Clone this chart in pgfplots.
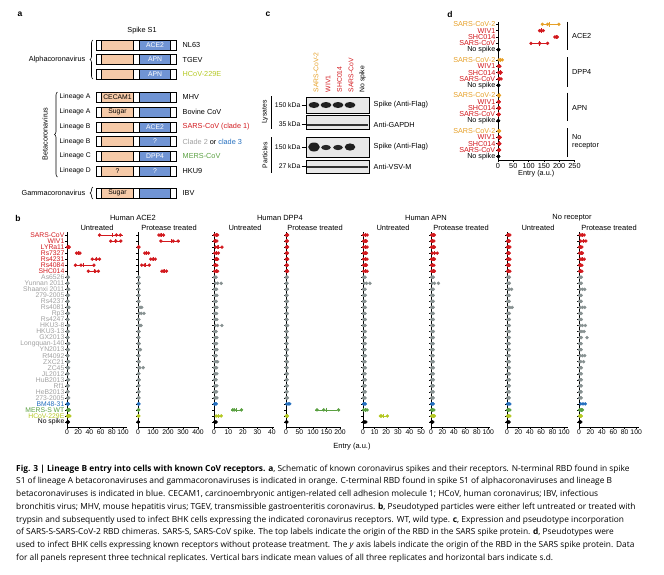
\documentclass[border=0pt]{standalone}
\usepackage{pgfplots}
\pgfplotsset{compat=1.18}
\usepackage{pgfplotstable}
\usepackage{fontspec}
\setmainfont{Liberation Sans}
\newfontfamily\capfont{Open Sans}
\usetikzlibrary{decorations.pathreplacing}

\definecolor{cred}{RGB}{210,25,30}
\definecolor{cgrayl}{RGB}{160,160,160}
\definecolor{cgraym}{RGB}{135,145,145}
\definecolor{cblue}{RGB}{35,110,190}
\definecolor{cmers}{RGB}{90,160,65}
\definecolor{chcov}{RGB}{180,200,35}
\definecolor{corg}{RGB}{230,160,40}
\definecolor{sorange}{RGB}{246,202,168}
\definecolor{sblue}{RGB}{112,148,212}

\newcommand{\fa}{\fontsize{7.3}{8}\selectfont}
\newcommand{\fb}{\fontsize{6.8}{7.5}\selectfont}

% panel b data: y = row position (31 = top row), a b c = replicates, m = mean, s = s.d.
\pgfplotstableread{
y a b c m s k
31 58 88 95 80 20 R
30 78 87 96 87 9 R
29 1 2.5 4 2.5 1.5 R
28 17 20 23 20 3 R
27 45 52 58 52 6.5 R
26 15 25 48 29 17 R
25 38 50 56 48 9 R
24 0.5 1.5 2.5 1.5 1 G
23 0.5 1 2 1.2 0.8 G
22 1 2 3 2 1 G
21 0.5 1.5 2.5 1.5 1 G
20 0.5 1 2 1.2 0.8 G
19 1 2 3.5 2.2 1.2 G
18 0.5 1.5 2.5 1.5 1 G
17 0.5 1 2 1.2 0.8 G
16 1 2 3 2 1 G
15 0.5 1.5 2.5 1.5 1 G
14 0.5 1 2 1.2 0.8 G
13 1 2 3 2 1 G
12 0.5 1.5 2.5 1.5 1 G
11 0.5 1 2 1.2 0.8 G
10 1 2 3 2 1 G
9 0.5 1.5 3 1.7 1.2 G
8 0.5 1 2 1.2 0.8 G
7 1 2 3 2 1 G
6 0.5 1.5 2.5 1.5 1 G
5 0.5 1 2 1.2 0.8 G
4 1 2 3 2 1 G
3 0.5 1.5 2.5 1.5 1 B
2 1 2.5 4 2.5 1.5 M
1 1 3 5 3 2 H
0 0.5 1.5 2.5 1.5 1 K
}\tUa
\pgfplotstableread{
y a b c m s k
31 140 153 170 154 15 R
30 153 235 268 219 59 R
29 2 4 6 4 2 R
28 45 55 70 57 12 R
27 85 100 115 100 15 R
26 25 45 75 48 25 R
25 160 172 190 174 15 R
24 2 4 6 4 2 G
23 2 5 8 5 3 G
22 2 4 6 4 2 G
21 2 4 7 4.3 2.5 G
20 2 4 6 4 2 G
19 5 15 25 15 10 G
18 8 22 40 23 16 G
17 2 4 6 4 2 G
16 5 12 20 12 7.5 G
15 2 4 7 4.3 2.5 G
14 2 4 6 4 2 G
13 2 5 8 5 3 G
12 4 10 16 10 6 G
11 2 4 6 4 2 G
10 2 5 8 5 3 G
9 5 12 35 17 16 G
8 2 4 6 4 2 G
7 2 5 8 5 3 G
6 2 4 6 4 2 G
5 2 4 7 4.3 2.5 G
4 2 4 6 4 2 G
3 2 4 6 4 2 B
2 2 3 5 3.3 1.5 M
1 2 3 5 3.3 1.5 H
0 1 2 3 2 1 K
}\tPa
\pgfplotstableread{
y a b c m s k
31 0.5 1.5 2.5 1.5 1 R
30 0.5 1 2 1.2 0.8 R
29 1 2.5 5.5 3 2.3 R
28 0.5 1.5 3 1.7 1.2 R
27 1 2 2.5 1.8 0.8 R
26 0.5 1 2 1.2 0.8 R
25 0.5 1.5 2.5 1.5 1 R
24 0.3 0.8 1.5 0.9 0.6 G
23 1 2.5 5 2.8 2 G
22 0.3 1 1.8 1 0.7 G
21 0.5 1 2 1.2 0.8 G
20 0.3 0.8 1.5 0.9 0.6 G
19 0.5 1.2 2 1.2 0.8 G
18 0.3 1 1.8 1 0.7 G
17 0.5 1 2 1.2 0.8 G
16 1 2.5 5.5 3 2.3 G
15 0.3 0.8 1.5 0.9 0.6 G
14 0.5 1.2 2 1.2 0.8 G
13 0.3 1 1.8 1 0.7 G
12 0.5 1 2 1.2 0.8 G
11 0.3 0.8 1.5 0.9 0.6 G
10 0.5 1.5 2.5 1.5 1 G
9 0.3 1 1.8 1 0.7 G
8 0.5 1 2 1.2 0.8 G
7 0.3 0.8 1.5 0.9 0.6 G
6 0.5 1.2 2 1.2 0.8 G
5 0.3 1 1.8 1 0.7 G
4 0.5 1 2 1.2 0.8 G
3 0.3 0.8 1.5 0.9 0.6 B
2 13 14 19 15.3 3.2 M
1 1.5 3 5 3.2 1.8 H
0 0.5 1 1.5 1 0.5 K
}\tUb
\pgfplotstableread{
y a b c m s k
31 1 3 6 3.3 2.5 R
30 1 2.5 5 2.8 2 R
29 1 3 6 3.3 2.5 R
28 1 2.5 5 2.8 2 R
27 1 3 6 3.3 2.5 R
26 1 2.5 5 2.8 2 R
25 1 3 6 3.3 2.5 R
24 1 3 5 3 2 G
23 1 2 4 2.3 1.5 G
22 1 3 5 3 2 G
21 1 2 4 2.3 1.5 G
20 1 3 5 3 2 G
19 1 2 4 2.3 1.5 G
18 1 3 5 3 2 G
17 1 2 4 2.3 1.5 G
16 1 3 6 3.3 2.5 G
15 1 2 4 2.3 1.5 G
14 1 3 5 3 2 G
13 1 2 4 2.3 1.5 G
12 1 3 5 3 2 G
11 1 2 4 2.3 1.5 G
10 1 3 5 3 2 G
9 1 2 4 2.3 1.5 G
8 1 3 5 3 2 G
7 1 2 4 2.3 1.5 G
6 1 3 5 3 2 G
5 1 2 4 2.3 1.5 G
4 1 3 5 3 2 G
3 3 8 14 8.3 5.5 B
2 115 140 195 150 41 M
1 1 3 5 3 2 H
0 1 2 3 2 1 K
}\tPb
\pgfplotstableread{
y a b c m s k
31 0.5 2 3.5 2 1.5 R
30 0.5 1.5 3 1.7 1.2 R
29 0.5 2 3.5 2 1.5 R
28 0.5 1.5 3 1.7 1.2 R
27 0.5 2 3.5 2 1.5 R
26 0.5 1.5 3 1.7 1.2 R
25 0.5 2 3.5 2 1.5 R
24 0.3 1 1.8 1 0.7 G
23 1 3 6 3.3 2.5 G
22 0.3 1 1.8 1 0.7 G
21 0.5 1.2 2 1.2 0.8 G
20 0.3 1 1.8 1 0.7 G
19 0.5 1.2 2 1.2 0.8 G
18 0.3 1 1.8 1 0.7 G
17 0.5 1.2 2 1.2 0.8 G
16 0.3 1 1.8 1 0.7 G
15 0.5 1.2 2 1.2 0.8 G
14 0.3 1 1.8 1 0.7 G
13 0.5 1.2 2 1.2 0.8 G
12 0.3 1 1.8 1 0.7 G
11 0.5 1.2 2 1.2 0.8 G
10 0.3 1 1.8 1 0.7 G
9 0.5 1.2 2 1.2 0.8 G
8 0.3 1 1.8 1 0.7 G
7 0.5 1.2 2 1.2 0.8 G
6 0.3 1 1.8 1 0.7 G
5 0.5 1.2 2 1.2 0.8 G
4 0.3 1 1.8 1 0.7 G
3 0.5 1 2 1.2 0.8 B
2 0.5 2 3.5 2 1.5 M
1 15 16 21 17.3 3.2 H
0 0.5 1.5 2.5 1.5 1 K
}\tUc
\pgfplotstableread{
y a b c m s k
31 1 3 6 3.3 2.5 R
30 1 2.5 5 2.8 2 R
29 1 3 6 3.3 2.5 R
28 2 6 11 6.3 4.5 R
27 1 3 6 3.3 2.5 R
26 1 2.5 5 2.8 2 R
25 1 3 6 3.3 2.5 R
24 1 2.5 4 2.5 1.5 G
23 2 6 13 7 5.5 G
22 1 2.5 4 2.5 1.5 G
21 1 2 4 2.3 1.5 G
20 1 2.5 4 2.5 1.5 G
19 1 2 4 2.3 1.5 G
18 1 2.5 4 2.5 1.5 G
17 1 2 4 2.3 1.5 G
16 1 2.5 4 2.5 1.5 G
15 1 2 4 2.3 1.5 G
14 1 2.5 4 2.5 1.5 G
13 1 2 4 2.3 1.5 G
12 1 2.5 4 2.5 1.5 G
11 1 2 4 2.3 1.5 G
10 1 2.5 4 2.5 1.5 G
9 1 2 4 2.3 1.5 G
8 1 2.5 4 2.5 1.5 G
7 1 2 4 2.3 1.5 G
6 1 2.5 4 2.5 1.5 G
5 1 2 4 2.3 1.5 G
4 1 2.5 4 2.5 1.5 G
3 1 2.5 4 2.5 1.5 B
2 1 3 5 3 2 M
1 1 3 6 3.3 2.5 H
0 0.5 1.5 3 1.7 1.2 K
}\tPc
\pgfplotstableread{
y a b c m s k
31 1 3 5 3 2 R
30 1 2.5 4 2.5 1.5 R
29 1 3 5 3 2 R
28 1 2.5 4 2.5 1.5 R
27 1 3 5 3 2 R
26 1 2.5 4 2.5 1.5 R
25 1 3 5 3 2 R
24 1 2.5 4 2.5 1.5 G
23 1 2 4 2.3 1.5 G
22 2 4 8 4.7 3 G
21 1 2 4 2.3 1.5 G
20 1 2.5 4 2.5 1.5 G
19 2 5 9 5.3 3.5 G
18 1 2.5 4 2.5 1.5 G
17 1 2 4 2.3 1.5 G
16 1 2.5 4 2.5 1.5 G
15 1 2 4 2.3 1.5 G
14 1 2.5 4 2.5 1.5 G
13 1 2 4 2.3 1.5 G
12 1 2.5 4 2.5 1.5 G
11 1 2 4 2.3 1.5 G
10 1 2.5 4 2.5 1.5 G
9 1 2 4 2.3 1.5 G
8 1 2.5 4 2.5 1.5 G
7 1 2 4 2.3 1.5 G
6 1 2.5 4 2.5 1.5 G
5 1 2 4 2.3 1.5 G
4 1 2.5 4 2.5 1.5 G
3 1 3 5 3 2 B
2 1 3 5 3 2 M
1 1 3 5 3 2 H
0 0.5 2 3.5 2 1.5 K
}\tUd
\pgfplotstableread{
y a b c m s k
31 2 5 9 5.3 3.5 R
30 3 8 12 7.7 4.5 R
29 1 3 5 3 2 R
28 1 3 6 3.3 2.5 R
27 2 5 9 5.3 3.5 R
26 1 3 5 3 2 R
25 1 3 5 3 2 R
24 1 2.5 4 2.5 1.5 G
23 1 2 4 2.3 1.5 G
22 2 6 10 6 4 G
21 1 2 4 2.3 1.5 G
20 1 2.5 4 2.5 1.5 G
19 2 6 10 6 4 G
18 1 2.5 4 2.5 1.5 G
17 1 2 4 2.3 1.5 G
16 2 6 11 6.3 4.5 G
15 2 5 9 5.3 3.5 G
14 2 4 14 6.7 6.4 G
13 1 2 4 2.3 1.5 G
12 1 2.5 4 2.5 1.5 G
11 2 6 10 6 4 G
10 1 3 8 4 3.6 G
9 1 2.5 4 2.5 1.5 G
8 1 2 4 2.3 1.5 G
7 1 2.5 4 2.5 1.5 G
6 1 2 4 2.3 1.5 G
5 1 2.5 4 2.5 1.5 G
4 1 2 4 2.3 1.5 G
3 3 7 11 7 4 B
2 1 3 6 3.3 2.5 M
1 1 2 4 2.3 1.5 H
0 0.5 1.5 3 1.7 1.2 K
}\tPd

% panel d data: y = row position (20.8 = top row)
\pgfplotstableread{
y a b c m s
20.8 145 162 199 169 28
15.2 3 8 14 8.3 5.5
9.6 1 3 5 3 2
4 1 3 5 3 2
}\tdO
\pgfplotstableread{
y a b c m s
19.8 136 141 148 142 6
18.8 186 190 194 190 4
17.8 108 136 162 135 27
14.2 1 3 6 3.3 2.5
13.2 2 6 10 6 4
12.2 2 5 10 5.7 4
8.6 1 2.5 4 2.5 1.5
7.6 1 3 5 3 2
6.6 1 2 4 2.3 1.5
3 2 4 7 4.3 2.5
2 2 4 6 4 2
1 1 3 5 3 2
}\tdR
\pgfplotstableread{
y a b c m s
16.8 0.5 1.5 2.5 1.5 1
11.2 0.5 1.5 2.5 1.5 1
5.6 0.5 1 2 1.2 0.8
0 0.5 1.5 2.5 1.5 1
}\tdK

\pgfplotsset{
  bstyle/.style={scale only axis, height=195pt, xmin=0, ymin=-0.83, ymax=31.5,
    axis x line*=bottom, axis y line*=left,
    axis line style={line width=0.8pt, -},
    ytick={0,...,31}, yticklabels={}, tick align=outside, major tick length=2pt,
    tick style={black, line width=0.5pt},
    tick label style={font=\fontsize{6.8}{7}\selectfont, inner sep=1pt},
    /pgf/number format/assume math mode=true, clip=false},
  bdots/.style={only marks, scatter, point meta=explicit symbolic, mark size=1.5pt,
    scatter/classes={
      R={mark=*,draw=cred,fill=cred},
      G={mark=*,draw=cgraym,fill=cgraym},
      B={mark=*,draw=cblue,fill=cblue},
      M={mark=*,draw=cmers,fill=cmers},
      H={mark=*,draw=chcov,fill=chcov},
      K={mark=*,draw=black,fill=black}}},
  berr/.style={only marks, mark=|, mark size=2.2pt, color=#1, mark options={line width=0.6pt},
    error bars/.cd, x dir=both, x explicit, error mark=none,
    error bar style={line width=0.5pt, #1}, /pgfplots/.cd},
}

\newcommand{\bplot}[6]{%
\begin{axis}[bstyle, at={(#1)}, anchor=south west, width=#2pt, xmax=#3, xtick={#4}, #6]
\addplot[bdots] table[x=a,y=y,meta=k]{#5};
\addplot[bdots] table[x=b,y=y,meta=k]{#5};
\addplot[bdots] table[x=c,y=y,meta=k]{#5};
\addplot[restrict y to domain=24.5:31.5, berr=cred] table[x=m,y=y,x error=s]{#5};
\addplot[restrict y to domain=1.5:2.5, berr=cmers] table[x=m,y=y,x error=s]{#5};
\addplot[restrict y to domain=0.5:1.5, berr=chcov] table[x=m,y=y,x error=s]{#5};
\end{axis}}

\newcommand{\spike}[3]{%
  \fill[sorange] (101.7,#1-4.8) rectangle (133.3,#1+4.8);
  \fill[sblue] (139.3,#1-4.8) rectangle (170.7,#1+4.8);
  \draw[line width=0.55pt] (96,#1-4.8) rectangle (176.7,#1+4.8);
  \foreach \xx in {101.7,133.3,139.3,170.7}{\draw[line width=0.55pt] (\xx,#1-4.8)--(\xx,#1+4.8);}
  \node[font=\fb, inner sep=0pt] at (117.5,#1) {#2};
  \node[font=\fb, text=white, inner sep=0pt] at (155,#1) {#3};}

\begin{document}
\begin{tikzpicture}[x=1pt,y=-1pt]
\useasboundingbox (0,0) rectangle (664,574);

% ---------- panel a ----------
\node[font=\bfseries\fontsize{8.5}{9}\selectfont] at (20,14) {a};
\node[font=\fa] at (142,31) {Spike S1};
\spike{45}{}{ACE2}
\spike{59.5}{}{APN}
\spike{74}{}{APN}
\spike{97}{CECAM1}{}
\spike{112}{Sugar}{}
\spike{127}{}{ACE2}
\spike{141.5}{}{?}
\spike{156}{}{DPP4}
\spike{171}{?}{?}
\spike{193}{Sugar}{}
\begin{scope}[every node/.style={anchor=west, font=\fa, inner sep=0.5pt}]
\node at (182,45) {NL63};
\node at (182,59.5) {TGEV};
\node[text=chcov] at (182,74) {HCoV-229E};
\node at (182,97) {MHV};
\node at (182,112) {Bovine CoV};
\node[text=cred] at (182,127) {SARS-CoV (clade 1)};
\node at (182,141.5) {\textcolor{cgrayl}{Clade 2} or \textcolor{cblue}{clade 3}};
\node[text=cmers] at (182,156) {MERS-CoV};
\node at (182,171) {HKU9};
\node at (182,193) {IBV};
\end{scope}
\begin{scope}[every node/.style={anchor=west, font=\fb, inner sep=0.5pt}]
\node at (59,97) {Lineage A};
\node at (59,112) {Lineage A};
\node at (59,127) {Lineage B};
\node at (59,141.5) {Lineage B};
\node at (59,156) {Lineage C};
\node at (59,171) {Lineage D};
\end{scope}
\draw[decorate, decoration={brace, amplitude=3pt}, line width=0.6pt] (93,79) -- (93,40);
\draw[decorate, decoration={brace, amplitude=3pt}, line width=0.6pt] (57.5,177) -- (57.5,92);
\draw[decorate, decoration={brace, amplitude=3pt}, line width=0.6pt] (93,199) -- (93,187);
\node[anchor=east, font=\fa, inner sep=0.5pt] at (86,59.5) {Alphacoronavirus};
\node[anchor=east, font=\fa, inner sep=0.5pt] at (86,193) {Gammacoronavirus};
\node[rotate=90, font=\fa] at (45,134) {Betacoronavirus};

% ---------- panel c ----------
\node[font=\bfseries\fontsize{8.5}{9}\selectfont] at (268,14) {c};
\foreach \x/\t/\c in {316/SARS-CoV-2/corg, 328/WIV1/cred, 339.5/SHC014/cred, 351/SARS-CoV/cred, 362.5/No spike/black}
  \node[rotate=90, anchor=west, font=\fb, text=\c, inner sep=0.5pt] at (\x,93) {\t};
\fill[black!9] (306,97) rectangle (369,113);
\fill[black!9] (306,115) rectangle (369,129);
\fill[black!9] (306,137) rectangle (369,157);
\fill[black!9] (306,160) rectangle (369,173);
\foreach \x in {314,326,338,350} \fill[black!88] (\x,105) ellipse [x radius=5.4pt, y radius=3pt];
\fill[black!80] (307,123.5) rectangle (368,125.5);
\fill[black!88] (314,147) ellipse [x radius=5.8pt, y radius=4.5pt];
\foreach \x in {326,338} \fill[black!85] (\x,147.5) ellipse [x radius=4.8pt, y radius=2.6pt];
\fill[black!88] (350,147) ellipse [x radius=5.3pt, y radius=3.6pt];
\fill[black!80] (307,165.5) rectangle (368,167.5);
\foreach \yy/\hh in {97/113,115/129,137/157,160/173} \draw[line width=0.5pt] (306,\yy) rectangle (369,\hh);
\begin{scope}[every node/.style={font=\fb, inner sep=0.5pt}]
\node[anchor=east] at (301,105) {150 kDa};
\node[anchor=east] at (301,124.5) {35 kDa};
\node[anchor=east] at (301,147) {150 kDa};
\node[anchor=east] at (301,166.5) {27 kDa};
\node[rotate=90] at (265,112) {Lysates};
\node[rotate=90] at (265,155) {Particles};
\end{scope}
\begin{scope}[every node/.style={anchor=west, font=\fa, inner sep=0.5pt}]
\node at (373,105) {Spike (Anti-Flag)};
\node at (373,124.5) {Anti-GAPDH};
\node at (373,147) {Spike (Anti-Flag)};
\node at (373,166.5) {Anti-VSV-M};
\end{scope}
\foreach \yy in {105,124.5,147,166.5} \draw[line width=0.5pt] (301.5,\yy) -- (306,\yy);
\draw[line width=0.6pt] (271,96) -- (271,129);
\draw[line width=0.6pt] (271,137) -- (271,173);

% ---------- panel d ----------
\node[font=\bfseries\fontsize{8.5}{9}\selectfont] at (450,14) {d};
\coordinate (D) at (498,160);
\begin{axis}[scale only axis, at={(D)}, anchor=south west, width=76.5pt, height=138.3pt,
  xmin=0, xmax=250, ymin=-0.57, ymax=21.21, clip=false,
  axis x line*=bottom, axis y line*=left, axis line style={line width=0.8pt, -},
  xtick={0,50,...,250},
  ytick={0,1,2,3,4,5.6,6.6,7.6,8.6,9.6,11.2,12.2,13.2,14.2,15.2,16.8,17.8,18.8,19.8,20.8},
  yticklabels={No spike,\textcolor{cred}{SARS-CoV},\textcolor{cred}{SHC014},\textcolor{cred}{WIV1},\textcolor{corg}{SARS-CoV-2},
    No spike,\textcolor{cred}{SARS-CoV},\textcolor{cred}{SHC014},\textcolor{cred}{WIV1},\textcolor{corg}{SARS-CoV-2},
    No spike,\textcolor{cred}{SARS-CoV},\textcolor{cred}{SHC014},\textcolor{cred}{WIV1},\textcolor{corg}{SARS-CoV-2},
    No spike,\textcolor{cred}{SARS-CoV},\textcolor{cred}{SHC014},\textcolor{cred}{WIV1},\textcolor{corg}{SARS-CoV-2}},
  tick align=outside, major tick length=2pt, tick style={black, line width=0.5pt},
  tick label style={font=\fontsize{7.3}{7}\selectfont, inner sep=1pt},
  yticklabel style={font=\fontsize{7.2}{7}\selectfont, inner sep=0.5pt},
  /pgf/number format/assume math mode=true,
  xlabel={Entry (a.u.)}, xlabel style={font=\fontsize{7.3}{8}\selectfont, yshift=3pt}]
\foreach \col in {a,b,c}{
  \addplot[only marks, mark=*, mark size=1.5pt, color=corg] table[x=\col,y=y]{\tdO};
  \addplot[only marks, mark=*, mark size=1.5pt, color=cred] table[x=\col,y=y]{\tdR};
  \addplot[only marks, mark=*, mark size=1.5pt, color=black] table[x=\col,y=y]{\tdK};
}
\addplot[berr=corg] table[x=m,y=y,x error=s]{\tdO};
\addplot[berr=cred] table[x=m,y=y,x error=s]{\tdR};
\end{axis}
\foreach \ya/\yb in {21.7/50,57/86.5,92.5/121,128/157} \draw[line width=0.6pt] (567,\ya) -- (567,\yb);
\begin{scope}[every node/.style={anchor=west, font=\fa, inner sep=0.5pt}]
\node at (571.5,36) {ACE2};
\node at (571.5,72) {DPP4};
\node at (571.5,108) {APN};
\node[align=left] at (571.5,141.5) {No\\receptor};
\end{scope}

% ---------- panel b ----------
\node[font=\bfseries\fontsize{8.5}{9}\selectfont] at (18,218) {b};
\begin{scope}[every node/.style={font=\fontsize{7.5}{8}\selectfont, inner sep=0.5pt}]
\node at (133,218) {Human ACE2};
\node at (97,228) {Untreated};
\node at (169,228) {Protease treated};
\node at (280,218) {Human DPP4};
\node at (245,228) {Untreated};
\node at (315,228) {Protease treated};
\node at (426,218) {Human APN};
\node at (393,228) {Untreated};
\node at (461,228) {Protease treated};
\node at (572,218) {No receptor};
\node at (538,228) {Untreated};
\node at (609,228) {Protease treated};
\node at (352,447) {Entry (a.u.)};
\end{scope}
\coordinate (B1) at (67,427);
\coordinate (B2) at (138,427);
\coordinate (B3) at (214,427);
\coordinate (B4) at (286,427);
\coordinate (B5) at (363,427);
\coordinate (B6) at (431,427);
\coordinate (B7) at (507,427);
\coordinate (B8) at (579,427);
\bplot{B1}{60}{107}{0,20,...,100}{\tUa}{yticklabels={No spike,\textcolor{chcov}{HCoV-229E},\textcolor{cmers}{MERS-S WT},\textcolor{cblue}{BM48-31},
  \textcolor{cgrayl}{273-2005},\textcolor{cgrayl}{HeB2013},\textcolor{cgrayl}{Rf1},\textcolor{cgrayl}{HuB2013},\textcolor{cgrayl}{JL2012},
  \textcolor{cgrayl}{ZC45},\textcolor{cgrayl}{ZXC21},\textcolor{cgrayl}{Rf4092},\textcolor{cgrayl}{YN2013},\textcolor{cgrayl}{Longquan-140},
  \textcolor{cgrayl}{GX2013},\textcolor{cgrayl}{HKU3-13},\textcolor{cgrayl}{HKU3-8},\textcolor{cgrayl}{Rs4247},\textcolor{cgrayl}{Rp3},
  \textcolor{cgrayl}{Rs4081},\textcolor{cgrayl}{Rs4237},\textcolor{cgrayl}{279-2005},\textcolor{cgrayl}{Shaanxi 2011},\textcolor{cgrayl}{Yunnan 2011},
  \textcolor{cgrayl}{As6526},\textcolor{cred}{SHC014},\textcolor{cred}{Rs4084},\textcolor{cred}{Rs4231},\textcolor{cred}{Rs7327},
  \textcolor{cred}{LYRa11},\textcolor{cred}{WIV1},\textcolor{cred}{SARS-CoV}},
  yticklabel style={font=\fontsize{6.8}{7}\selectfont, inner sep=0.5pt}}
\bplot{B2}{61}{407}{0,100,...,400}{\tPa}{}
\bplot{B3}{60}{41.5}{0,10,...,40}{\tUb}{}
\bplot{B4}{55}{204}{0,50,...,200}{\tPb}{}
\bplot{B5}{60}{51.7}{0,10,...,50}{\tUc}{}
\bplot{B6}{59}{103}{0,20,...,100}{\tPc}{}
\bplot{B7}{61}{107}{0,20,...,100}{\tUd}{}
\bplot{B8}{60}{105}{0,20,...,100}{\tPd}{}

% ---------- caption ----------
\begin{scope}[every node/.style={anchor=west, inner sep=0pt, font=\capfont\fontsize{8.35}{9}\selectfont}]
\node at (16,469) {\textbf{Fig. 3 | Lineage B entry into cells with known CoV receptors. a}, Schematic of known coronavirus spikes and their receptors. N-terminal RBD found in spike};
\node at (16,481.7) {S1 of lineage A betacoronaviruses and gammacoronaviruses is indicated in orange. C-terminal RBD found in spike S1 of alphacoronaviruses and lineage B};
\node at (16,494.4) {betacoronaviruses is indicated in blue. CECAM1, carcinoembryonic antigen-related cell adhesion molecule 1; HCoV, human coronavirus; IBV, infectious};
\node at (16,507.1) {bronchitis virus; MHV, mouse hepatitis virus; TGEV, transmissible gastroenteritis coronavirus. \textbf{b}, Pseudotyped particles were either left untreated or treated with};
\node at (16,519.8) {trypsin and subsequently used to infect BHK cells expressing the indicated coronavirus receptors. WT, wild type. \textbf{c}, Expression and pseudotype incorporation};
\node at (16,532.5) {of SARS-S-SARS-CoV-2 RBD chimeras. SARS-S, SARS-CoV spike. The top labels indicate the origin of the RBD in the SARS spike protein. \textbf{d}, Pseudotypes were};
\node at (16,545.2) {used to infect BHK cells expressing known receptors without protease treatment. The \textit{y} axis labels indicate the origin of the RBD in the SARS spike protein. Data};
\node at (16,557.9) {for all panels represent three technical replicates. Vertical bars indicate mean values of all three replicates and horizontal bars indicate s.d.};
\end{scope}
\end{tikzpicture}
\end{document}
